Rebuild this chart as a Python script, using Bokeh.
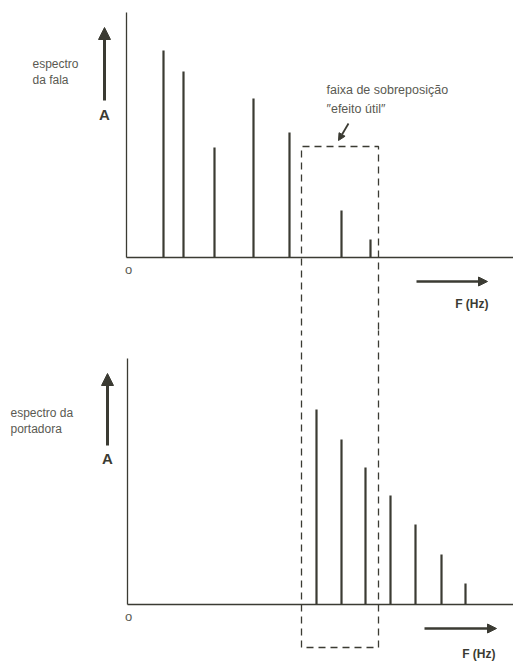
from bokeh.plotting import figure
from bokeh.models import Range1d, Label, Arrow, NormalHead, LinearAxis, FixedTicker
from bokeh.layouts import column
from bokeh.embed import file_html
from bokeh.resources import INLINE

# ---- data (arbitrary frequency / amplitude units) ----
fala_freq = [37, 57, 88, 127, 163, 215, 244]
fala_amp = [207, 186, 110, 159, 125, 47, 18]
port_freq = [189, 214, 238, 263, 288, 314, 338]
port_amp = [195, 165, 137, 109, 80, 50, 21]
band = [175, 252]          # faixa de sobreposição (frequency)
band_top = 111             # top of dashed box over top spectrum
band_bottom = -43          # bottom of dashed box below carrier spectrum
axis_top = [245, 246]

INK = "#3b3b33"
TXT = "#5a5a52"
FONT = "Liberation Sans"
W = 513


def base_fig(h, x0, y0):
    p = figure(width=W, height=h, output_backend="svg", toolbar_location=None,
               x_axis_location=None, y_axis_location=None,
               min_border=0, min_border_left=0, min_border_right=0,
               min_border_top=0, min_border_bottom=0)
    p.x_range = Range1d(x0, x0 + W)
    p.y_range = Range1d(y0, y0 + h)
    p.outline_line_color = None
    p.grid.visible = False
    p.background_fill_color = "white"
    p.border_fill_color = "white"
    return p


def add_axes(p, ytop):
    xa = LinearAxis(fixed_location=0, ticker=FixedTicker(ticks=[]),
                    axis_line_color=INK, axis_line_width=1.6,
                    major_tick_line_color=None, minor_tick_line_color=None,
                    major_label_text_font_size="0px")
    xa.bounds = (0, 1000)
    ya = LinearAxis(fixed_location=0, ticker=FixedTicker(ticks=[]),
                    axis_line_color=INK, axis_line_width=1.3,
                    major_tick_line_color=None, minor_tick_line_color=None,
                    major_label_text_font_size="0px")
    ya.bounds = (0, ytop)
    p.add_layout(xa, "below")
    p.add_layout(ya, "left")


def lbl(p, x, y, t, size="12px", align="left", style="normal", color=TXT):
    p.add_layout(Label(x=x, y=y, text=t, text_font=FONT, text_font_size=size,
                       text_align=align, text_baseline="middle",
                       text_color=color, text_font_style=style))


def arrow(p, xs, ys, xe, ye, w=3, size=11):
    p.add_layout(Arrow(x_start=xs, y_start=ys, x_end=xe, y_end=ye,
                       line_color=INK, line_width=w,
                       end=NormalHead(size=size, fill_color=INK, line_color=INK)))


# ---------------- top: espectro da fala ----------------
p1 = base_fig(330, -126, -73)
add_axes(p1, axis_top[0])
p1.segment(x0=fala_freq, y0=0, x1=fala_freq, y1=fala_amp, line_color=INK, line_width=2.2)
# dashed overlap box (open at bottom, continues into lower chart)
p1.multi_line(xs=[[band[0], band[0], band[1], band[1]]],
              ys=[[-80, band_top, band_top, -80]],
              line_color=INK, line_width=1.3, line_dash="7 5")
arrow(p1, -22, 157, -22, 230, w=3, size=12)
lbl(p1, -22, 143, "A", size="15px", align="center", color=INK, style="bold")
lbl(p1, -94, 194, "espectro")
lbl(p1, -94, 178, "da fala")
lbl(p1, 2, -12, "o", size="13px", align="center")
lbl(p1, 200, 168, "faixa de sobreposição", size="12.5px")
lbl(p1, 200, 149, "\u2033efeito útil\u2033", size="12.5px")
arrow(p1, 222, 134, 212, 117, w=1.8, size=7)
arrow(p1, 290, -24, 361, -24, w=2.5, size=9)
lbl(p1, 362, -46, "F (Hz)", size="12px", align="right", color=INK, style="bold")

# ---------------- bottom: espectro da portadora ----------------
p2 = base_fig(336, -127, -62)
add_axes(p2, axis_top[1])
p2.segment(x0=port_freq, y0=0, x1=port_freq, y1=port_amp, line_color=INK, line_width=2.2)
p2.multi_line(xs=[[band[0] - 1, band[0] - 1, band[1] - 1, band[1] - 1]],
              ys=[[300, band_bottom, band_bottom, 300]],
              line_color=INK, line_width=1.3, line_dash="7 5")
arrow(p2, -20, 159, -20, 231, w=3, size=12)
lbl(p2, -20, 146, "A", size="15px", align="center", color=INK, style="bold")
lbl(p2, -117, 192, "espectro da")
lbl(p2, -117, 176, "portadora")
lbl(p2, 1, -12, "o", size="13px", align="center")
arrow(p2, 297, -24, 369, -24, w=2.5, size=9)
lbl(p2, 368, -49, "F (Hz)", size="12px", align="right", color=INK, style="bold")

layout = column(p1, p2, spacing=0)
open("out.html", "w").write(file_html(layout, INLINE))
